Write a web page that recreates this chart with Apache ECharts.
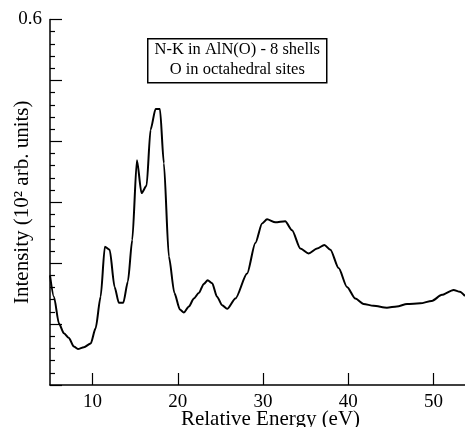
<!DOCTYPE html>
<html>
<head>
<meta charset="utf-8">
<script src="https://cdn.jsdelivr.net/npm/echarts@6/dist/echarts.min.js"></script>
<style>
html,body{margin:0;padding:0;background:#fff;}
#chart{width:465px;height:427px;}
</style>
</head>
<body>
<div id="chart"></div>
<script>
// Relative energy (eV)
var energy = [5.0, 5.46, 6.05, 6.63, 7.22, 7.8, 8.28, 8.98, 9.77, 10.35, 10.94, 11.44, 12.0, 12.58, 13.08, 13.6, 14.14, 14.65, 15.2, 15.74, 16.33, 16.8, 17.39, 17.9, 18.36, 18.95, 19.6, 20.24, 20.7, 21.3, 21.88, 22.46, 23.05, 23.5, 24.03, 24.6, 25.2, 25.79, 26.76, 28.13, 29.1, 29.89, 30.47, 31.45, 32.6, 33.4, 34.38, 35.35, 36.34, 37.2, 37.9, 38.87, 39.85, 40.83, 41.8, 42.97, 44.54, 45.7, 46.9, 48.45, 49.8, 51.0, 52.36, 53.1, 53.7];
// Intensity (10^2 arb. units)
var intensity = [0.180, 0.145, 0.101, 0.085, 0.077, 0.063, 0.059, 0.062, 0.068, 0.093, 0.145, 0.227, 0.222, 0.161, 0.135, 0.135, 0.170, 0.238, 0.369, 0.315, 0.327, 0.419, 0.453, 0.453, 0.364, 0.211, 0.151, 0.124, 0.119, 0.129, 0.142, 0.151, 0.166, 0.172, 0.167, 0.145, 0.131, 0.125, 0.142, 0.183, 0.233, 0.265, 0.272, 0.267, 0.269, 0.254, 0.224, 0.216, 0.224, 0.230, 0.222, 0.192, 0.161, 0.142, 0.133, 0.130, 0.127, 0.129, 0.133, 0.134, 0.138, 0.148, 0.156, 0.153, 0.146];
var xTickValues = [10, 20, 30, 40, 50];
var yLabelShown = [0.6];
var legendLines = ['N-K in AlN(O) - 8 shells', 'O in octahedral sites'];
var xAxisTitle = 'Relative Energy (eV)';
var yAxisTitle = 'Intensity (10\u00B2 arb. units)';

var FONT = 'Liberation Serif';
var data = energy.map(function (e, i) { return [e, intensity[i]]; });

var chart = echarts.init(document.getElementById('chart'), null, {renderer: 'canvas'});
chart.setOption({
  backgroundColor: '#fff',
  animation: false,
  grid: {left: 50, right: 0, top: 19.5, bottom: 42, containLabel: false, outerBoundsMode: 'none'},
  xAxis: {
    type: 'value', min: 5, max: 53.7,
    name: xAxisTitle, nameLocation: 'middle', nameGap: 24, nameMoveOverlap: false,
    nameTextStyle: {fontFamily: FONT, fontSize: 21, color: '#000', padding: [0, 0, 0, 26]},
    axisLine: {lineStyle: {color: '#000', width: 1.5}},
    axisTick: {inside: true, length: 12, customValues: xTickValues, lineStyle: {color: '#000', width: 1.2}},
    axisLabel: {customValues: xTickValues, fontFamily: FONT, fontSize: 19, color: '#000', margin: 8},
    splitLine: {show: false}
  },
  yAxis: {
    type: 'value', min: 0, max: 0.6, interval: 0.1,
    name: yAxisTitle, nameLocation: 'middle', nameGap: 17, nameRotate: 90, nameMoveOverlap: false,
    nameTextStyle: {fontFamily: FONT, fontSize: 21, color: '#000'},
    axisLine: {lineStyle: {color: '#000', width: 1.5}},
    axisTick: {inside: true, length: 12, lineStyle: {color: '#000', width: 1.2}},
    minorTick: {show: true, splitNumber: 5, length: 5, lineStyle: {color: '#000', width: 1.2}},
    axisLabel: {
      fontFamily: FONT, fontSize: 19, color: '#000', margin: 8,
      formatter: function (v) {
        for (var i = 0; i < yLabelShown.length; i++) {
          if (Math.abs(v - yLabelShown[i]) < 1e-9) return String(yLabelShown[i]);
        }
        return '';
      }
    },
    splitLine: {show: false}
  },
  series: [{
    type: 'line', data: data, showSymbol: false, smooth: 0.25, smoothMonotone: 'x',
    lineStyle: {color: '#000', width: 2},
    clip: true
  }],
  graphic: [{
    type: 'group', left: 147, top: 38,
    children: [
      {type: 'rect', shape: {x: 0, y: 0, width: 179, height: 44}, style: {fill: '#fff', stroke: '#000', lineWidth: 1.5}},
      {type: 'text', x: 89.5, y: 11, style: {text: legendLines[0], font: '16.5px "Liberation Serif"', fill: '#000', textAlign: 'center', textVerticalAlign: 'middle'}},
      {type: 'text', x: 89.5, y: 31, style: {text: legendLines[1], font: '16.5px "Liberation Serif"', fill: '#000', textAlign: 'center', textVerticalAlign: 'middle'}}
    ]
  }]
});
</script>
</body>
</html>
